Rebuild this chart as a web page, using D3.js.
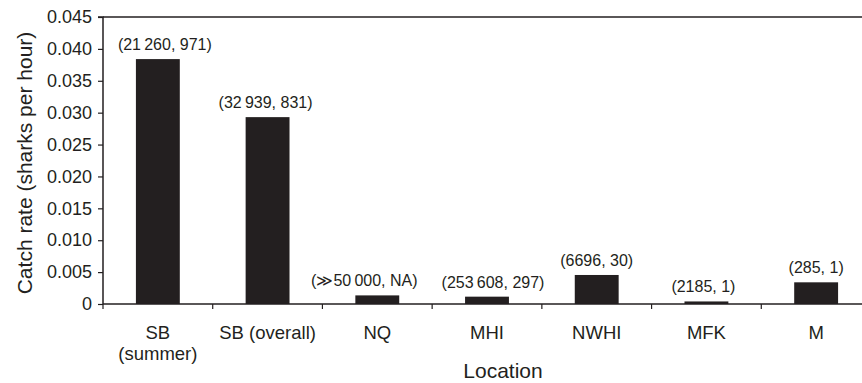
<!DOCTYPE html>
<html><head><meta charset="utf-8">
<script src="https://cdn.jsdelivr.net/npm/d3@7"></script>
<style>
body{margin:0;background:#fff;}
svg{display:block;}
text{font-family:"Liberation Sans",Arial,Helvetica,sans-serif;fill:#231f20;}
</style></head><body>
<svg id="chart" width="862" height="383"></svg>
<script>
const categories = ["SB|(summer)", "SB (overall)", "NQ", "MHI", "NWHI", "MFK", "M"];
const catchRate = [0.0384, 0.0293, 0.00135, 0.00115, 0.00455, 0.0004, 0.0034];
const annotations = ["(21\u2009260, 971)", "(32\u2009939, 831)", "(\u226B50\u2009000, NA)", "(253\u2009608, 297)", "(6696, 30)", "(2185, 1)", "(285, 1)"];
const yTicks = [0, 0.005, 0.010, 0.015, 0.020, 0.025, 0.030, 0.035, 0.040, 0.045];
const yTickLabels = ["0", "0.005", "0.010", "0.015", "0.020", "0.025", "0.030", "0.035", "0.040", "0.045"];
const xTitle = "Location";
const yTitle = "Catch rate (sharks per hour)";

(function () {
const ink = "#231f20";
const svg = d3.select("#chart");
const mLeft = 103, mTop = 17, mBottom = 304, mRight = 871;
const annNudge = [7, -2, -13, 6, 0, -3, 0];

const x = d3.scaleBand().domain(categories).range([mLeft, mRight]).paddingInner(0.6).paddingOuter(0.3);
const y = d3.scaleLinear().domain([0, 0.045]).range([mBottom, mTop]);

svg.append("g").selectAll("rect").data(categories).join("rect")
  .attr("x", d => x(d))
  .attr("width", x.bandwidth())
  .attr("y", (d, i) => y(catchRate[i]))
  .attr("height", (d, i) => y(0) - y(catchRate[i]))
  .attr("fill", ink);

svg.append("line").attr("x1", mLeft).attr("x2", mRight).attr("y1", y(0.045)).attr("y2", y(0.045))
  .attr("stroke", ink).attr("stroke-width", 1.5);

const yAxis = d3.axisLeft(y).tickValues(yTicks).tickFormat((d, i) => yTickLabels[i]).tickSize(5).tickPadding(6);
const gy = svg.append("g").attr("transform", `translate(${mLeft},0)`).call(yAxis);
gy.select(".domain").attr("stroke", ink).attr("stroke-width", 1.5).attr("d", `M-5,${mTop}H0V${mBottom}`);
gy.selectAll(".tick line").attr("stroke", ink).attr("stroke-width", 1.2);
gy.selectAll(".tick text").attr("font-size", 18).attr("fill", ink).style("font-family", '"Liberation Sans",Arial,sans-serif');

const gx = svg.append("g").attr("transform", `translate(0,${mBottom})`);
gx.append("line").attr("x1", mLeft).attr("x2", mRight).attr("stroke", ink).attr("stroke-width", 1.5);
const step = x.step();
const bounds = categories.map((d, i) => x(d) - (step - x.bandwidth()) / 2).concat([mRight]);
gx.selectAll("line.tk").data(bounds).join("line").attr("class", "tk")
  .attr("x1", d => d).attr("x2", d => d).attr("y1", 0).attr("y2", 5)
  .attr("stroke", ink).attr("stroke-width", 1.2);
gx.selectAll("text.cat").data(categories).join("text").attr("class", "cat")
  .attr("text-anchor", "middle").attr("font-size", 18.5)
  .attr("transform", d => `translate(${x(d) + x.bandwidth() / 2},35)`)
  .each(function (d) {
    const lines = d.split("|");
    d3.select(this).selectAll("tspan").data(lines).join("tspan")
      .attr("x", 0).attr("dy", (l, j) => j === 0 ? 0 : 21).text(l => l);
  });

svg.append("g").selectAll("text").data(annotations).join("text")
  .attr("text-anchor", "middle").attr("font-size", 16)
  .attr("x", (d, i) => x(categories[i]) + x.bandwidth() / 2 + annNudge[i])
  .attr("y", (d, i) => y(catchRate[i]) - 9)
  .text(d => d);

svg.append("text").attr("text-anchor", "middle").attr("font-size", 21)
  .attr("x", 503).attr("y", 378).text(xTitle);
svg.append("text").attr("text-anchor", "middle").attr("font-size", 21)
  .attr("transform", `translate(32,163) rotate(-90)`).text(yTitle);
})();
</script>
</body></html>
